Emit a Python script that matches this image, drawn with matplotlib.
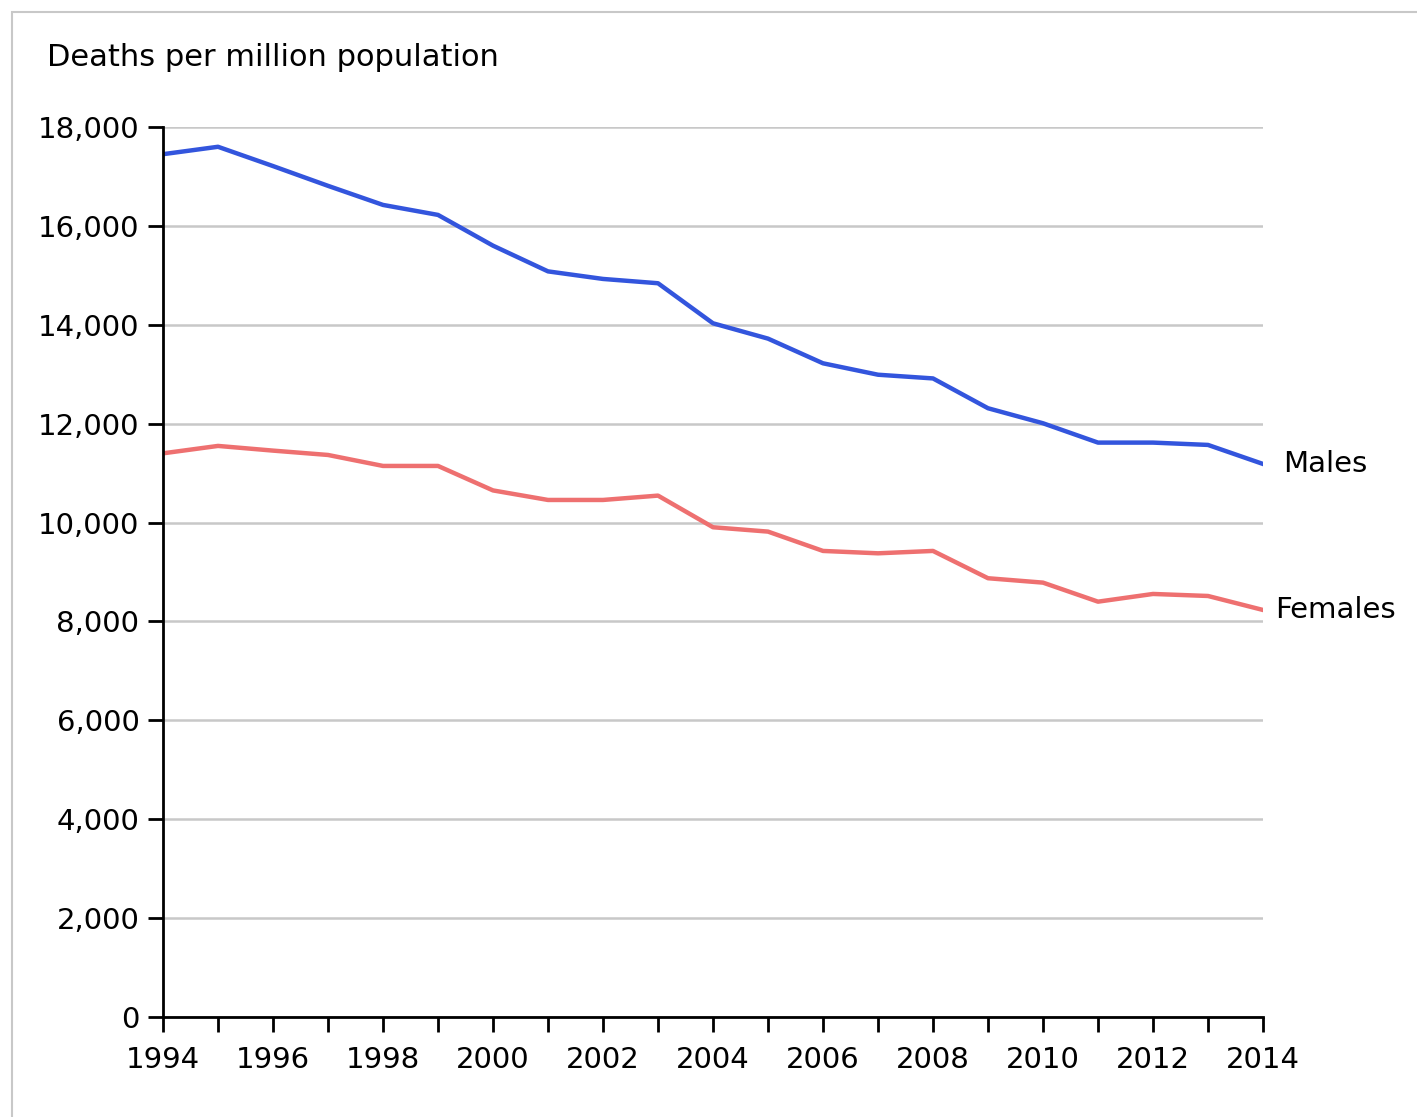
import matplotlib.pyplot as plt
from matplotlib.patches import Rectangle
from matplotlib.ticker import FuncFormatter

plt.rcParams['font.family'] = ['DejaVu Sans']

# data
years = list(range(1994, 2015))
males = [17450, 17600, 17210, 16810, 16424, 16222, 15600, 15080, 14927, 14840,
         14030, 13720, 13221, 12990, 12915, 12312, 12008, 11617, 11617, 11570, 11185]
females = [11400, 11550, 11455, 11367, 11145, 11145, 10650, 10457, 10457, 10545,
           9905, 9817, 9426, 9378, 9426, 8874, 8785, 8400, 8556, 8515, 8232]
xticks = list(range(1994, 2015, 2))
yticks = list(range(0, 18001, 2000))

fig = plt.figure(figsize=(14.17, 11.17), dpi=100)
# outer light grey frame
fig.patches.append(Rectangle((12 / 1417, -0.1), 1.2, 1 - 11.5 / 1117 + 0.1,
                             transform=fig.transFigure, fill=False,
                             edgecolor='#c8c8c8', linewidth=1.5))

ax = fig.add_axes([163 / 1417, 1 - 1017 / 1117, 1100 / 1417, 890 / 1117])

ax.plot(years, males, color='#3355dd', linewidth=3.2, solid_joinstyle='round')
ax.plot(years, females, color='#ee7070', linewidth=3.2, solid_joinstyle='round')

ax.set_xlim(1994, 2014)
ax.set_ylim(0, 18000)
ax.set_xticks(years)
ax.set_xticklabels([str(y) if y in xticks else '' for y in years])
ax.set_yticks(yticks)
ax.yaxis.set_major_formatter(FuncFormatter(lambda v, p: f'{int(v):,}'))

ax.grid(axis='y', color='#c8c8c8', linewidth=1.8)
ax.set_axisbelow(True)
for s in ['top', 'right']:
    ax.spines[s].set_visible(False)
for s in ['left', 'bottom']:
    ax.spines[s].set_linewidth(2)
    ax.spines[s].set_color('black')
ax.tick_params(axis='both', direction='out', length=11, width=2,
               labelsize=21, colors='black', pad=6)
ax.tick_params(axis='x', pad=10)

ax.text(years[-1] + 0.37, males[-1], 'Males', fontsize=21, va='center', ha='left')
ax.text(years[-1] + 0.22, females[-1], 'Females', fontsize=21, va='center', ha='left')

fig.text(47 / 1417, 1 - 58 / 1117, 'Deaths per million population', fontsize=22,
         va='center', ha='left')

fig.savefig('out.png', dpi=100)
